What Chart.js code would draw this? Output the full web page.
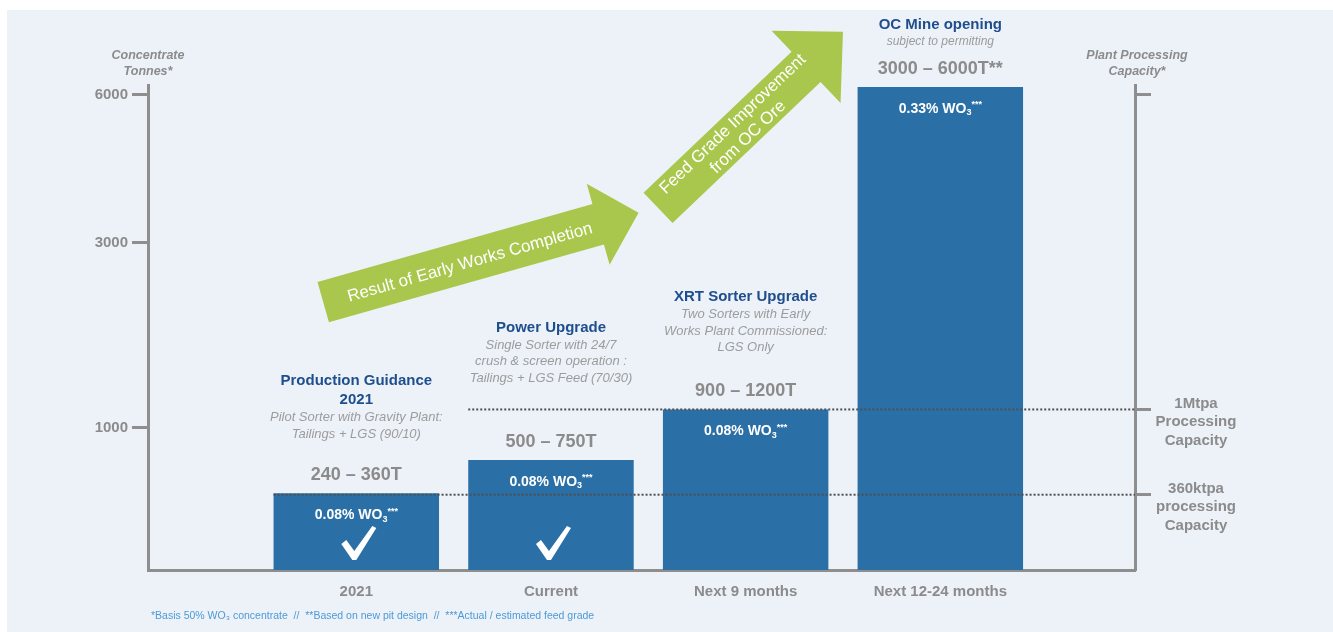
<!DOCTYPE html>
<html>
<head>
<meta charset="utf-8">
<script src="https://cdn.jsdelivr.net/npm/chart.js@4.4.0/dist/chart.umd.min.js"></script>
<style>
  html, body { margin: 0; padding: 0; background: #fff; }
  canvas { display: block; }
</style>
</head>
<body>
<canvas id="chart" width="1333" height="632"></canvas>
<script>
const categories = ['2021', 'Current', 'Next 9 months', 'Next 12-24 months'];
const barValues = [540, 775, 1200, 6160];
const rangeLabels = ['240 – 360T', '500 – 750T', '900 – 1200T', '3000 – 6000T**'];
const stageTitles = [['Production Guidance', '2021'], ['Power Upgrade'], ['XRT Sorter Upgrade'], ['OC Mine opening']];
const stageNotes = [
    ['Pilot Sorter with Gravity Plant:', 'Tailings + LGS (90/10)'],
    ['Single Sorter with 24/7', 'crush & screen operation :', 'Tailings + LGS Feed (70/30)'],
    ['Two Sorters with Early', 'Works Plant Commissioned:', 'LGS Only'],
    ['subject to permitting']
];
const feedGrades = ['0.08%', '0.08%', '0.08%', '0.33%'];
const completed = [true, true, false, false];
const leftTicks = [1000, 3000, 6000];
const capacityValues = [530, 1200];
const capacityLabels = [['360ktpa', 'processing', 'Capacity'], ['1Mtpa', 'Processing', 'Capacity']];
const capacityFromBar = [0, 1];
const arrowTexts = [['Result of Early Works Completion'], ['Feed Grade Improvement', 'from OC Ore']];
// arrow anchors in chart units: [slot, tonnes]
const arrowTails = [[0.83, 2360], [2.55, 3710]];
const arrowTips = [[2.45, 3610], [3.5, 7280]];

const FONT = '"Liberation Sans", Arial, sans-serif';
const GREY = '#8b8b8b';
const AXIS = '#8e8e8e';
const BLUE = '#1f4e8d';
const BAR = '#2b6fa7';
const GREEN = '#a9c74c';

// the tonnes axis is not linear: px spacing between 0, 1000, 3000 and 6000
const Y_BREAKS = [0, 1000, 3000, 6000];
const Y_GAPS = [142, 185, 148];
const NOTE_GAP = [41, 64, 44, 27];
const ARROW_SHAPE = [
    { body: 42, headW: 84, headL: 42, font: 17, text: [[152, 2]] },
    { body: 42, headW: 100, headL: 51, font: 17, text: [[112, -9], [114, 11]] }
];

function brokenOffset(v) {
    let acc = 0;
    for (let i = 0; i < Y_GAPS.length; i++) {
        const a = Y_BREAKS[i], b = Y_BREAKS[i + 1];
        if (v <= b || i === Y_GAPS.length - 1) return acc + (v - a) / (b - a) * Y_GAPS[i];
        acc += Y_GAPS[i];
    }
}

function brokenValue(off) {
    let acc = 0;
    for (let i = 0; i < Y_GAPS.length; i++) {
        const a = Y_BREAKS[i], b = Y_BREAKS[i + 1];
        if (off <= acc + Y_GAPS[i] || i === Y_GAPS.length - 1) return a + (off - acc) / Y_GAPS[i] * (b - a);
        acc += Y_GAPS[i];
    }
}

class BrokenScale extends Chart.LinearScale {
    getPixelForValue(value) {
        if (value === null || value === undefined) return NaN;
        return this.getPixelForDecimal(brokenOffset(value) / brokenOffset(this.max));
    }
    getValueForPixel(pixel) {
        return brokenValue(this.getDecimalForPixel(pixel) * brokenOffset(this.max));
    }
}
BrokenScale.id = 'broken';
BrokenScale.defaults = Chart.LinearScale.defaults;
Chart.register(BrokenScale);

function drawGrade(ctx, grade, cx, cy) {
    const main = grade + ' WO';
    ctx.font = 'bold 14px ' + FONT;
    const w1 = ctx.measureText(main).width;
    ctx.font = 'bold 9px ' + FONT;
    const w2 = ctx.measureText('3').width;
    const w3 = ctx.measureText('***').width;
    let sx = cx - (w1 + w2 + w3) / 2;
    ctx.textAlign = 'left';
    ctx.fillStyle = '#ffffff';
    ctx.font = 'bold 14px ' + FONT;
    ctx.fillText(main, sx, cy);
    sx += w1;
    ctx.font = 'bold 9px ' + FONT;
    ctx.fillText('3', sx, cy + 4);
    sx += w2;
    ctx.fillText('***', sx, cy - 4);
}

function drawCheck(ctx, cx, cy) {
    const pts = [[-17, 1], [-12, -3], [-4, 8], [14, -17], [18, -15], [-2, 17], [-6, 17]];
    ctx.fillStyle = '#ffffff';
    ctx.beginPath();
    pts.forEach((p, i) => i ? ctx.lineTo(cx + p[0], cy + p[1]) : ctx.moveTo(cx + p[0], cy + p[1]));
    ctx.closePath();
    ctx.fill();
}

function drawArrow(ctx, tail, tip, shape, lines) {
    const ang = Math.atan2(tip.y - tail.y, tip.x - tail.x);
    const len = Math.hypot(tip.x - tail.x, tip.y - tail.y);
    const b = shape.body / 2, h = shape.headW / 2, base = len - shape.headL;
    ctx.save();
    ctx.translate(tail.x, tail.y);
    ctx.rotate(ang);
    ctx.fillStyle = GREEN;
    ctx.beginPath();
    ctx.moveTo(0, -b);
    ctx.lineTo(base, -b);
    ctx.lineTo(base, -h);
    ctx.lineTo(len, 0);
    ctx.lineTo(base, h);
    ctx.lineTo(base, b);
    ctx.lineTo(0, b);
    ctx.closePath();
    ctx.fill();
    ctx.fillStyle = '#ffffff';
    ctx.font = shape.font + 'px ' + FONT;
    ctx.textAlign = 'center';
    ctx.textBaseline = 'middle';
    lines.forEach((t, i) => ctx.fillText(t, shape.text[i][0], shape.text[i][1]));
    ctx.restore();
}

const decorations = {
    id: 'decorations',
    beforeDraw(chart) {
        const ctx = chart.ctx;
        ctx.save();
        ctx.fillStyle = '#ffffff';
        ctx.fillRect(0, 0, chart.width, chart.height);
        ctx.fillStyle = '#edf2f9';
        ctx.fillRect(7, 10, chart.width - 7, chart.height - 10);
        ctx.restore();
    },
    afterDatasetsDraw(chart) {
        const { ctx, chartArea, scales } = chart;
        const x = scales.x, y = scales.y, y2 = scales.y2;
        const bars = chart.getDatasetMeta(0).data;
        ctx.save();

        // dotted capacity lines
        ctx.strokeStyle = '#4f4f4f';
        ctx.lineWidth = 2;
        ctx.setLineDash([2, 2]);
        capacityValues.forEach((v, i) => {
            const py = y.getPixelForValue(v);
            const b = bars[capacityFromBar[i]];
            ctx.beginPath();
            ctx.moveTo(b.x - b.width / 2, py);
            ctx.lineTo(chartArea.right, py);
            ctx.stroke();
        });
        ctx.setLineDash([]);

        // capacity labels on the right axis
        ctx.textAlign = 'center';
        ctx.textBaseline = 'middle';
        ctx.fillStyle = GREY;
        ctx.font = 'bold 15px ' + FONT;
        capacityLabels.forEach((lines, i) => {
            const py = y2.getPixelForValue(capacityValues[i]) - 6;
            lines.forEach((t, k) => ctx.fillText(t, chartArea.right + 61, py + k * 18.5));
        });

        // axis titles
        ctx.font = 'italic bold 12.5px ' + FONT;
        ctx.fillText('Concentrate', chartArea.left, chartArea.top - 29);
        ctx.fillText('Tonnes*', chartArea.left, chartArea.top - 13);
        ctx.fillText('Plant Processing', chartArea.right + 2, chartArea.top - 29);
        ctx.fillText('Capacity*', chartArea.right + 2, chartArea.top - 13);

        // labels above and inside each bar
        bars.forEach((bar, i) => {
            const cx = bar.x;
            const rangeY = bar.y - 18;
            ctx.textAlign = 'center';
            ctx.textBaseline = 'middle';
            ctx.fillStyle = GREY;
            ctx.font = 'bold 18px ' + FONT;
            ctx.fillText(rangeLabels[i], cx, rangeY);

            const notes = stageNotes[i];
            const lastNote = rangeY - NOTE_GAP[i];
            const firstNote = lastNote - (notes.length - 1) * 16.5;
            ctx.fillStyle = '#9c9c9c';
            ctx.font = (i === 3 ? 'italic 12px ' : 'italic 13px ') + FONT;
            notes.forEach((t, k) => ctx.fillText(t, cx, firstNote + k * 16.5));

            const titles = stageTitles[i];
            ctx.fillStyle = BLUE;
            ctx.font = 'bold 15px ' + FONT;
            const lastTitle = firstNote - 17.5;
            titles.forEach((t, k) => ctx.fillText(t, cx, lastTitle - (titles.length - 1 - k) * 19));

            drawGrade(ctx, feedGrades[i], cx, bar.y + 22);
            if (completed[i]) drawCheck(ctx, cx + 2, chartArea.bottom - 27);
        });

        // green arrows
        arrowTexts.forEach((lines, i) => {
            const tail = { x: x.getPixelForValue(arrowTails[i][0]), y: y.getPixelForValue(arrowTails[i][1]) };
            const tip = { x: x.getPixelForValue(arrowTips[i][0]), y: y.getPixelForValue(arrowTips[i][1]) };
            drawArrow(ctx, tail, tip, ARROW_SHAPE[i], lines);
        });

        // footnote
        ctx.textAlign = 'left';
        ctx.textBaseline = 'middle';
        ctx.fillStyle = '#4d9ad6';
        ctx.font = '10.5px ' + FONT;
        ctx.fillText('*Basis 50% WO₃ concentrate  //  **Based on new pit design  //  ***Actual / estimated feed grade',
            chartArea.left + 3, chartArea.bottom + 46);
        ctx.restore();
    }
};

const tickFont = { family: FONT, size: 15, weight: 'bold' };

new Chart(document.getElementById('chart'), {
    type: 'bar',
    data: {
        datasets: [{
            data: categories.map((c, i) => ({ x: i + 1, y: barValues[i] })),
            backgroundColor: BAR,
            borderWidth: 0,
            barPercentage: 0.85,
            categoryPercentage: 1
        }]
    },
    options: {
        responsive: false,
        animation: false,
        devicePixelRatio: 1,
        layout: { padding: { top: 85 } },
        plugins: {
            legend: { display: false },
            tooltip: { enabled: false }
        },
        scales: {
            x: {
                type: 'linear',
                offset: false,
                min: -0.07,
                max: 5,
                afterBuildTicks: s => { s.ticks = categories.map((c, i) => ({ value: i + 1 })); },
                afterFit: s => { s.height = 62; },
                grid: { display: false, offset: false },
                border: { color: AXIS, width: 3 },
                ticks: {
                    callback: v => categories[v - 1] || '',
                    font: tickFont,
                    color: GREY,
                    padding: 5,
                    autoSkip: false,
                    maxRotation: 0
                }
            },
            y: {
                type: 'broken',
                position: 'left',
                min: 0,
                max: 6200,
                afterBuildTicks: s => { s.ticks = leftTicks.map(v => ({ value: v })); },
                afterFit: s => { s.width = 148; },
                grid: { drawOnChartArea: false, tickLength: 16, tickWidth: 3, tickColor: AXIS },
                border: { color: AXIS, width: 3 },
                ticks: { callback: v => String(v), font: tickFont, color: GREY, padding: 4 }
            },
            y2: {
                type: 'broken',
                position: 'right',
                min: 0,
                max: 6200,
                afterBuildTicks: s => { s.ticks = [6000, ...capacityValues].map(v => ({ value: v })); },
                afterFit: s => { s.width = 198; },
                grid: { drawOnChartArea: false, tickLength: 16, tickWidth: 3, tickColor: AXIS },
                border: { color: AXIS, width: 3 },
                ticks: { callback: () => '' }
            }
        }
    },
    plugins: [decorations]
});
</script>
</body>
</html>
